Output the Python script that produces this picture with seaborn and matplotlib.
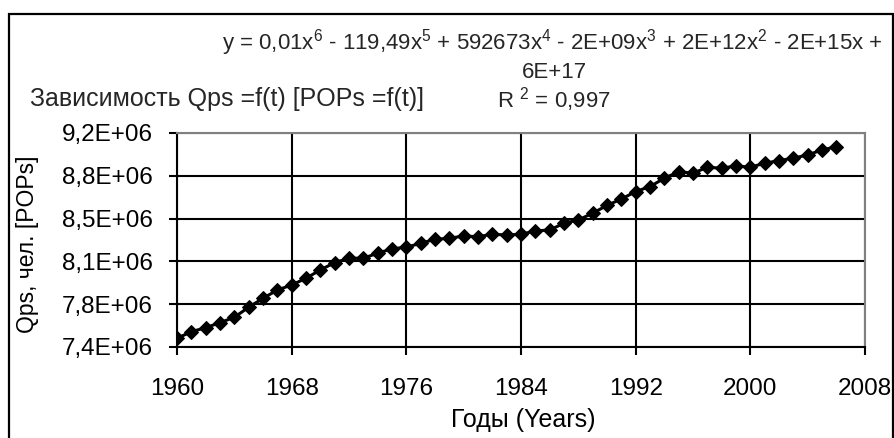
import matplotlib
matplotlib.use("Agg")
import matplotlib.pyplot as plt
from matplotlib.patches import Rectangle
import seaborn as sns

# Population of POPs over time
YEARS = list(range(1960, 2007))
QPS = [
    7.471e6, 7.525e6, 7.558e6, 7.599e6, 7.643e6, 7.725e6, 7.798e6, 7.866e6,
    7.907e6, 7.962e6, 8.030e6, 8.090e6, 8.126e6, 8.126e6, 8.167e6, 8.203e6,
    8.216e6, 8.248e6, 8.281e6, 8.289e6, 8.308e6, 8.302e6, 8.322e6, 8.316e6,
    8.322e6, 8.349e6, 8.357e6, 8.412e6, 8.439e6, 8.494e6, 8.558e6, 8.610e6,
    8.671e6, 8.712e6, 8.780e6, 8.834e6, 8.821e6, 8.870e6, 8.862e6, 8.881e6,
    8.870e6, 8.903e6, 8.924e6, 8.944e6, 8.971e6, 9.011e6, 9.038e6,
]
X_TICKS = [1960, 1968, 1976, 1984, 1992, 2000, 2008]
Y_TICKS = [7.40e6, 7.75e6, 8.10e6, 8.45e6, 8.80e6, 9.15e6]
Y_TICK_LABELS = ["7,4E+06", "7,8E+06", "8,1E+06", "8,5E+06", "8,8E+06", "9,2E+06"]

TITLE = "Зависимость Qps =f(t) [POPs =f(t)]"
EQUATION = (r"y = 0,01x$^{6}$ - 119,49x$^{5}$ + 592673x$^{4}$ - 2E+09x$^{3}$"
            r" + 2E+12x$^{2}$ - 2E+15x +")
EQUATION_2 = "6E+17"
R2_TEXT = r"R $^{2}$ = 0,997"

sns.set_theme(style="white")
plt.rcParams["font.family"] = ["Liberation Sans", "DejaVu Sans"]
plt.rcParams["mathtext.fontset"] = "custom"
plt.rcParams["mathtext.rm"] = "Liberation Sans"
plt.rcParams["mathtext.it"] = "Liberation Sans"
plt.rcParams["mathtext.default"] = "regular"


def fx(px):
    return px / 895


def fy(py):
    return 1 - py / 438


fig = plt.figure(figsize=(8.95, 4.38), dpi=100)
ax = fig.add_axes([fx(177), fy(347), (865 - 177) / 895, (347 - 133) / 438])

sns.lineplot(x=YEARS, y=QPS, ax=ax, color="black", linewidth=2.2,
             marker="D", markersize=7.5, markeredgecolor="black",
             markerfacecolor="black")

ax.set_xlim(1960, 2008)
ax.set_ylim(7.40e6, 9.15e6)
ax.set_xticks(X_TICKS)
ax.set_yticks(Y_TICKS)
ax.set_yticklabels(Y_TICK_LABELS)
ax.grid(True, color="black", linewidth=1.5)
ax.set_axisbelow(True)

for side in ["left", "bottom"]:
    ax.spines[side].set_color("black")
    ax.spines[side].set_linewidth(1.5)
for side in ["top", "right"]:
    ax.spines[side].set_color("#808080")
    ax.spines[side].set_linewidth(1.5)

ax.tick_params(axis="both", which="major", direction="out", length=6,
               width=1.5, color="black", labelsize=17.5, labelcolor="black",
               bottom=True, left=True)
ax.tick_params(axis="x", pad=16.5)
ax.tick_params(axis="y", pad=11.5)

ax.set_xlabel("Годы (Years)", fontsize=18, color="black")
ax.set_ylabel("Qps, чел. [POPs]", fontsize=16.5, color="black")
ax.xaxis.set_label_coords(fx(523), fy(420), transform=fig.transFigure)
ax.yaxis.set_label_coords(fx(28), fy(244), transform=fig.transFigure)
ax.yaxis.label.set_verticalalignment("center")
ax.xaxis.label.set_verticalalignment("center")

fig.text(fx(552), fy(49), EQUATION, ha="center", va="baseline", fontsize=16)
fig.text(fx(554), fy(78), EQUATION_2, ha="center", va="baseline", fontsize=16)
fig.text(fx(554), fy(108), R2_TEXT, ha="center", va="baseline", fontsize=16)
fig.text(fx(30), fy(106), TITLE, ha="left", va="baseline", fontsize=18)

fig.patches.append(Rectangle((fx(8.5), -0.05), (893 - 8.5) / 895, 1.05 - 14 / 438,
                             transform=fig.transFigure, fill=False,
                             edgecolor="black", linewidth=1.6))

fig.savefig("out.png", dpi=100)
